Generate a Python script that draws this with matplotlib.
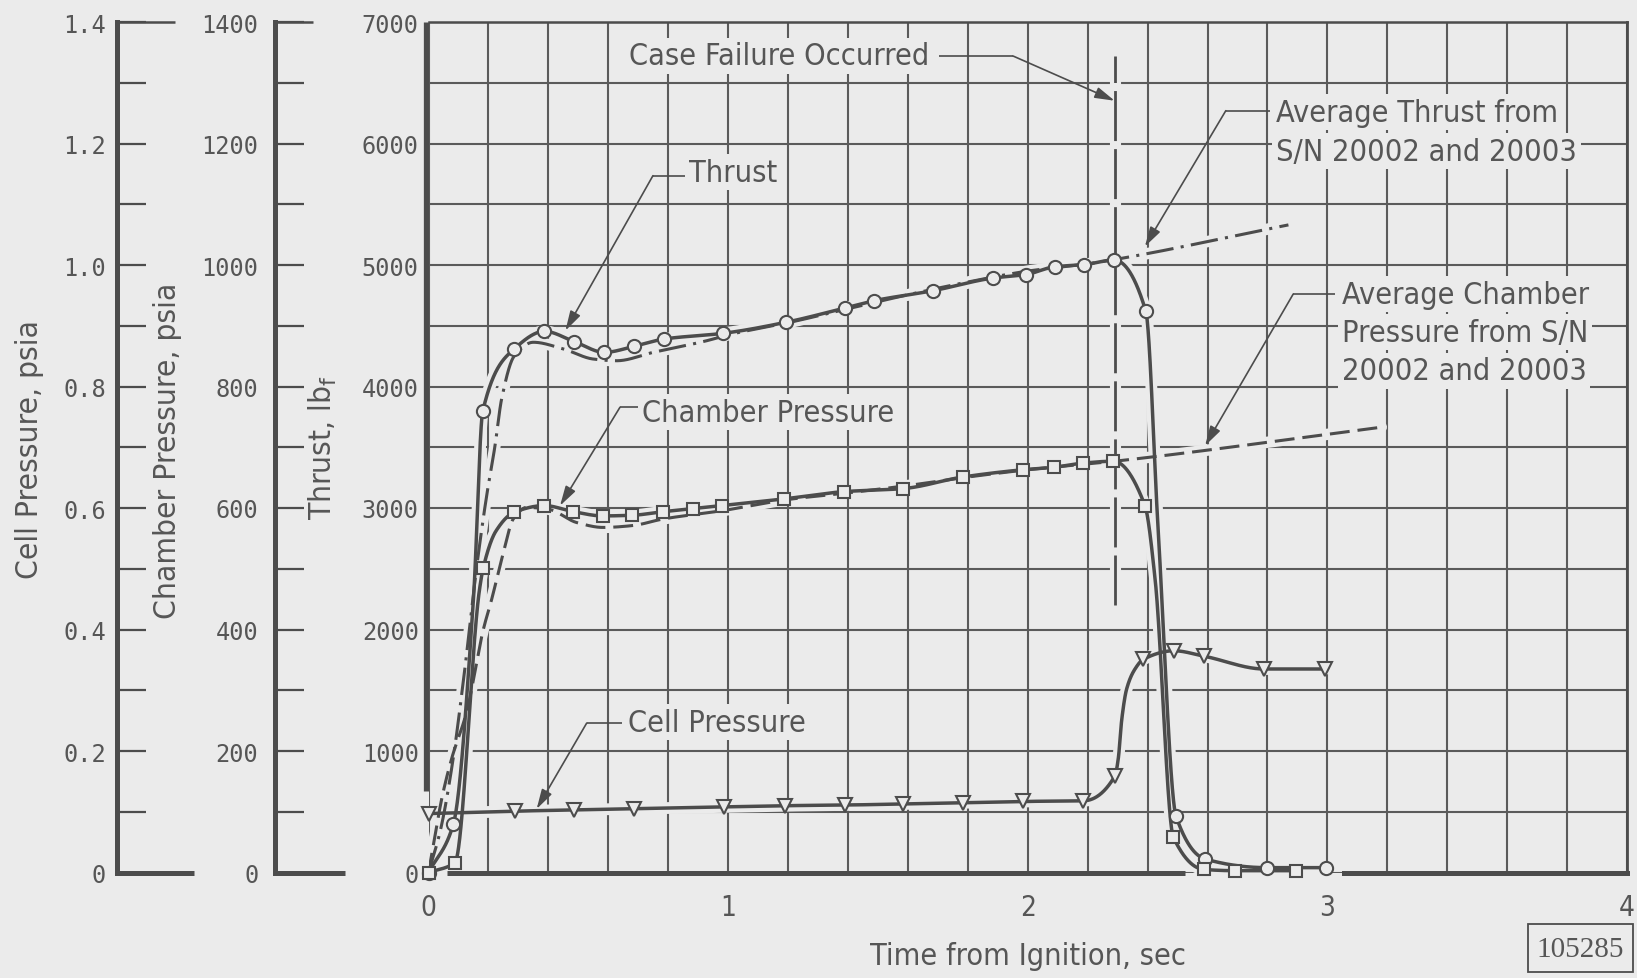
import numpy as np
import matplotlib
matplotlib.use("Agg")
import matplotlib.pyplot as plt
from matplotlib import font_manager as fm
from matplotlib.patches import Rectangle

# ---------------------------------------------------------------- data ----
# Measured thrust, lbf (circles)
thrust_t = [0.0, 0.083, 0.181, 0.286, 0.387, 0.487, 0.587, 0.687, 0.787,
            0.984, 1.192, 1.390, 1.487, 1.685, 1.885, 1.993, 2.091, 2.189,
            2.288, 2.394, 2.495, 2.592, 2.798, 2.996]
thrust_lbf = [0, 399, 3796, 4309, 4454, 4369, 4281, 4331, 4391,
              4438, 4528, 4646, 4706, 4789, 4893, 4921, 4986, 5003,
              5041, 4619, 462, 111, 40, 40]
# extra (unmarked) points on the thrust trace
thrust_trace_t = [0.150, 2.435]
thrust_trace_lbf = [2250, 2830]

# Measured chamber pressure, psia (squares)
chamber_t = [0.0, 0.088, 0.183, 0.286, 0.387, 0.483, 0.581, 0.679, 0.784,
             0.882, 0.979, 1.187, 1.388, 1.585, 1.783, 1.985, 2.086, 2.186,
             2.286, 2.391, 2.486, 2.588, 2.692, 2.896]
chamber_psia = [0, 16, 502, 593, 604, 594, 587, 588, 594,
                599, 604, 615, 627, 632, 651, 663, 667, 674,
                677, 604, 58, 5, 3, 3]
chamber_trace_t = [0.170, 0.225, 2.425]
chamber_trace_psia = [465, 562, 483]

# Measured cell pressure, psia (triangles)
cell_t = [0.0, 0.289, 0.486, 0.686, 0.986, 1.190, 1.390, 1.585, 1.785,
          1.985, 2.186, 2.291, 2.386, 2.488, 2.589, 2.789, 2.992]
cell_psia = [0.097, 0.101, 0.103, 0.105, 0.108, 0.110, 0.111, 0.113, 0.115,
             0.117, 0.118, 0.159, 0.351, 0.365, 0.356, 0.335, 0.335]
cell_trace_t = [2.302, 2.314, 2.330, 2.358]
cell_trace_psia = [0.187, 0.253, 0.302, 0.335]

# Average thrust of S/N 20002 and 20003 (dash-dot), lbf
avg_thrust_t = [0.0, 0.04, 0.08, 0.12, 0.16, 0.194, 0.222, 0.244, 0.286,
                0.35, 0.45, 0.55, 0.628, 0.75, 0.929, 1.0, 1.2, 1.4, 1.6,
                1.8, 2.0, 2.2, 2.29, 2.87]
avg_thrust_lbf = [0, 350, 900, 1650, 2500, 3100, 3513, 3897, 4250,
                  4364, 4309, 4226, 4212, 4281, 4377, 4425, 4525, 4640, 4755,
                  4860, 4950, 5010, 5045, 5330]

# Average chamber pressure of S/N 20002 and 20003 (dashed), psia
avg_chamber_t = [0.0, 0.016, 0.044, 0.077, 0.127, 0.183, 0.211, 0.25, 0.283,
                 0.328, 0.40, 0.495, 0.583, 0.68, 0.784, 0.973, 1.2, 1.4,
                 1.6, 1.8, 2.0, 2.29, 3.18]
avg_chamber_psia = [0, 44, 121, 187, 264, 400, 450, 527, 582,
                    601, 598, 576, 568, 571, 582, 595, 614, 625,
                    637, 651, 663, 677, 733]

failure_t = 2.29

# axis ranges and tick labels
time_max = 4.0
thrust_max, chamber_max, cell_max = 7000, 1400, 1.4
x_ticks = [0, 1, 2, 3, 4]
x_tick_labels = ["0", "1", "2", "3", "4"]
thrust_ticks = [0, 1000, 2000, 3000, 4000, 5000, 6000, 7000]
thrust_tick_labels = ["0", "1000", "2000", "3000", "4000", "5000", "6000", "7000"]
chamber_ticks = [0, 200, 400, 600, 800, 1000, 1200, 1400]
chamber_tick_labels = ["0", "200", "400", "600", "800", "1000", "1200", "1400"]
cell_ticks = [0, 0.2, 0.4, 0.6, 0.8, 1.0, 1.2, 1.4]
cell_tick_labels = ["0", "0.2", "0.4", "0.6", "0.8", "1.0", "1.2", "1.4"]

# --------------------------------------------------------------- style ----
BG = "#ebebeb"
INK = "#4c4c4c"
GRID = "#5a5a5a"
TEXT = "#565656"
MONO = "DejaVu Sans Mono"


def font_ok(name):
    try:
        fm.findfont(fm.FontProperties(family=name), fallback_to_default=False)
        return True
    except ValueError:
        return False


if font_ok("Liberation Sans Narrow"):
    LABEL = dict(family="Liberation Sans Narrow")
    LSIZE = 25
elif "Condensed" in fm.findfont(fm.FontProperties(family="DejaVu Sans",
                                                  stretch="condensed")):
    LABEL = dict(family="DejaVu Sans", stretch="condensed")
    LSIZE = 22
else:
    LABEL = dict(family="DejaVu Sans")
    LSIZE = 20
VSIZE = LSIZE * 1.03  # rotated axis titles

plt.rcParams["mathtext.fontset"] = "custom"
plt.rcParams["mathtext.rm"] = LABEL["family"]


def pchip(x, y, xs):
    """Shape-preserving cubic through the given points."""
    x = np.asarray(x, float)
    y = np.asarray(y, float)
    h = np.diff(x)
    d = np.diff(y) / h
    m = np.zeros_like(y)
    for k in range(1, len(x) - 1):
        if d[k - 1] * d[k] > 0:
            w1 = 2 * h[k] + h[k - 1]
            w2 = h[k] + 2 * h[k - 1]
            m[k] = (w1 + w2) / (w1 / d[k - 1] + w2 / d[k])
    m[0], m[-1] = d[0], d[-1]
    i = np.clip(np.searchsorted(x, xs, side="right") - 1, 0, len(x) - 2)
    s = (xs - x[i]) / h[i]
    h00 = 2 * s**3 - 3 * s**2 + 1
    h10 = s**3 - 2 * s**2 + s
    h01 = -2 * s**3 + 3 * s**2
    h11 = s**3 - s**2
    return h00 * y[i] + h10 * h[i] * m[i] + h01 * y[i + 1] + h11 * h[i] * m[i + 1]


def trace(t, v, xt=(), xv=()):
    tt = np.array(list(t) + list(xt), float)
    vv = np.array(list(v) + list(xv), float)
    o = np.argsort(tt)
    tt, vv = tt[o], vv[o]
    xs = np.unique(np.concatenate([np.linspace(tt[0], tt[-1], 3000), tt]))
    return xs, pchip(tt, vv, xs)


# -------------------------------------------------------------- figure ----
W, H, DPI = 1637, 979, 100
fig = plt.figure(figsize=(W / DPI, H / DPI), dpi=DPI, facecolor=BG)


def fx(px):
    return px / W


def fy(py):
    return 1 - py / H


AX_L, AX_R, AX_T, AX_B = 428.5, 1627.0, 23.0, 873.5
ax = fig.add_axes([fx(AX_L), fy(AX_B), (AX_R - AX_L) / W, (AX_B - AX_T) / H])
ax.set_facecolor("none")
ax.set_xlim(0, time_max)
ax.set_ylim(0, thrust_max)

ch_k = thrust_max / chamber_max
cell_k = thrust_max / cell_max

# grid
ax.set_xticks(x_ticks, labels=x_tick_labels, fontsize=20, color=TEXT, **LABEL)
ax.set_xticks(np.arange(0, time_max + 1e-9, 0.2), minor=True)
ax.set_yticks(thrust_ticks, labels=thrust_tick_labels, fontsize=17,
              color=TEXT, family=MONO)
ax.set_yticks(np.arange(0, thrust_max + 1, 500), minor=True)
ax.grid(which="both", color=GRID, lw=1.5)
ax.set_axisbelow(True)
ax.tick_params(which="both", length=0)
ax.tick_params(axis="y", pad=7)
ax.tick_params(axis="x", pad=15)

for s in ("left", "bottom"):
    ax.spines[s].set_visible(False)
ax.spines["top"].set_linewidth(1.8)
ax.spines["right"].set_linewidth(2.0)
ax.spines["top"].set_color(INK)
ax.spines["right"].set_color(INK)

# heavy frame pieces, left open near the origin and under the tail-off
ax.plot([-0.01, -0.01], [670, thrust_max], color=INK, lw=3.8, clip_on=False,
        solid_capstyle="butt", zorder=5)
ax.plot([0.062, 2.525], [0, 0], color=INK, lw=3.6, clip_on=False,
        solid_capstyle="butt", zorder=5)
ax.plot([3.054, time_max], [0, 0], color=INK, lw=3.6, clip_on=False,
        solid_capstyle="projecting", zorder=5)

ax.set_xlabel("Time from Ignition, sec", fontsize=LSIZE, color=TEXT, **LABEL)
ax.xaxis.set_label_coords(0.5, (AX_B - 957) / (AX_B - AX_T))
ax.xaxis.label.set_va("center")

# curves
t_th, v_th = trace(thrust_t, thrust_lbf, thrust_trace_t, thrust_trace_lbf)
t_ch, v_ch = trace(chamber_t, chamber_psia, chamber_trace_t, chamber_trace_psia)
t_ce, v_ce = trace(cell_t, cell_psia, cell_trace_t, cell_trace_psia)
t_at, v_at = trace(avg_thrust_t, avg_thrust_lbf)
t_ac, v_ac = trace(avg_chamber_t, avg_chamber_psia)

curves = [
    (t_th, v_th, "-", 2.5),
    (t_ch, v_ch * ch_k, "-", 2.5),
    (t_ce, v_ce * cell_k, "-", 2.5),
    (t_at, v_at, (0, (9, 2.4, 1.0, 2.4)), 2.2),
    (t_ac, v_ac * ch_k, (0, (6.5, 2.6)), 2.2),
]
fail_y = [2200, 6720]

# background halos break the grid around each trace
for xs, ys, ls, lw in curves:
    ax.plot(xs, ys, color=BG, lw=lw + 6, zorder=2.4, solid_capstyle="round")
ax.plot([failure_t, failure_t], fail_y, color=BG, lw=8, zorder=2.4)

for xs, ys, ls, lw in curves:
    ax.plot(xs, ys, color=INK, lw=lw, ls=ls, zorder=3)
ax.plot([failure_t, failure_t], fail_y, color=INK, lw=2.0,
        ls=(0, (18, 2.9)), zorder=3)

mk = dict(ls="none", mfc=BG, mec=INK, mew=1.5, zorder=4, clip_on=False)
ax.plot(thrust_t, thrust_lbf, marker="o", ms=9.5, **mk)
ax.plot(chamber_t, np.array(chamber_psia) * ch_k, marker="s", ms=8, **mk)
ax.plot(cell_t, np.array(cell_psia) * cell_k, marker="v", ms=10, **mk)


# call-outs
def label(x, y, s, ha="left"):
    ax.text(x, y, s, ha=ha, va="center", fontsize=LSIZE, color=TEXT, zorder=5,
            bbox=dict(boxstyle="square,pad=0.12", fc=BG, ec="none"), **LABEL)


def leader(x0, x1, y, tip):
    ax.plot([x0, x1], [y, y], color=INK, lw=1.2, zorder=6,
            solid_capstyle="butt")
    ax.annotate("", xy=tip, xytext=(x1, y), zorder=6,
                arrowprops=dict(arrowstyle="-|>,head_length=0.6,head_width=0.17",
                                lw=1.2, color=INK, shrinkA=0, shrinkB=0,
                                mutation_scale=20))


label(1.672, 6722, "Case Failure Occurred", ha="right")
leader(1.704, 1.951, 6720, (failure_t, 6352))

label(0.868, 5765, "Thrust")
leader(0.855, 0.749, 5735, (0.457, 4460))

label(0.712, 3788, "Chamber Pressure")
leader(0.700, 0.639, 3829, (0.439, 3019))

label(0.667, 1236, "Cell Pressure")
leader(0.645, 0.528, 1230, (0.361, 523))

label(2.829, 6259, "Average Thrust from")
label(2.829, 5938, "S/N 20002 and 20003")
leader(2.809, 2.661, 6270, (2.391, 5152))

label(3.048, 4761, "Average Chamber")
label(3.048, 4446, "Pressure from S/N")
label(3.048, 4130, "20002 and 20003")
leader(3.026, 2.886, 4761, (2.592, 3513))


# ------------------------------------------------------ side scales ----
def side_axis(x_px, vmax, ticks, labels, minor_step, top_len, bot_len, pad):
    a = fig.add_axes([fx(x_px), fy(AX_B), 100 / W, (AX_B - AX_T) / H])
    a.set_facecolor("none")
    a.set_ylim(0, vmax)
    a.set_xlim(0, 100)
    for s in ("top", "right", "bottom"):
        a.spines[s].set_visible(False)
    a.spines["left"].set_linewidth(3.6)
    a.spines["left"].set_color(INK)
    a.set_xticks([])
    a.set_yticks(ticks, labels=labels, fontsize=17, color=TEXT, family=MONO)
    a.set_yticks(np.arange(0, vmax + 1e-9, minor_step), minor=True)
    a.tick_params(axis="y", which="both", direction="in", length=21,
                  width=1.6, color=INK, pad=pad)
    a.plot([0, top_len], [vmax, vmax], color=INK, lw=1.8, clip_on=False,
           solid_capstyle="butt")
    a.plot([0, bot_len], [0, 0], color=INK, lw=3.6, clip_on=False,
           solid_capstyle="butt")
    return a


side_axis(117, cell_max, cell_ticks, cell_tick_labels, 0.1, 58, 77, 8)
side_axis(275, chamber_max, chamber_ticks, chamber_tick_labels, 100, 38, 70, 12)

fig.text(fx(30), fy(450), "Cell Pressure, psia", rotation=90, ha="center",
         va="center", fontsize=VSIZE, color=TEXT, **LABEL)
fig.text(fx(167), fy(451), "Chamber Pressure, psia", rotation=90, ha="center",
         va="center", fontsize=VSIZE, color=TEXT, **LABEL)
fig.text(fx(323), fy(447), r"Thrust, lb$_\mathrm{f}$", rotation=90,
         ha="center", va="center", fontsize=VSIZE, color=TEXT, **LABEL)

# report number box
fig.patches.append(Rectangle((fx(1528), fy(973)), 105 / W, 48 / H,
                             transform=fig.transFigure, fill=False, ec=INK,
                             lw=1.3))
fig.text(fx(1580.5), fy(950), "105285", ha="center", va="center",
         fontsize=21, color=TEXT, family="Liberation Serif")

fig.savefig("out.png", dpi=DPI, facecolor=BG)
